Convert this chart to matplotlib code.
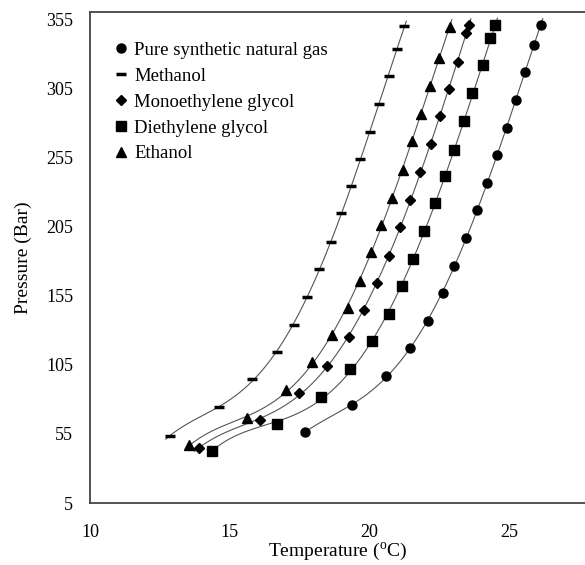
import numpy as np
import matplotlib
matplotlib.use('Agg')
import matplotlib.pyplot as plt

plt.rcParams['font.family'] = ['Liberation Serif', 'DejaVu Serif']
plt.rcParams['mathtext.fontset'] = 'custom'
plt.rcParams['mathtext.rm'] = 'Liberation Serif'

# Hydrate equilibrium data
pure_T = [17.70, 19.36, 20.60, 21.44, 22.08, 22.62, 23.01, 23.45, 23.85, 24.19, 24.55, 24.90, 25.24, 25.56, 25.86, 26.11]
pure_P = [56.5, 76, 97, 117, 137, 157, 177, 197, 217, 237, 257, 277, 297, 317, 337, 351]

meoh_T = [12.86, 14.62, 15.81, 16.67, 17.31, 17.76, 18.19, 18.61, 18.98, 19.35, 19.67, 20.00, 20.33, 20.68, 20.99, 21.23]
meoh_P = [53.8, 74.8, 94.6, 114.2, 134, 154.5, 174.3, 194.1, 214.9, 234.8, 254.4, 273.8, 294.3, 314.1, 333.8, 350.9]

meg_T = [13.89, 16.07, 17.48, 18.48, 19.25, 19.80, 20.27, 20.69, 21.08, 21.44, 21.81, 22.18, 22.50, 22.83, 23.15, 23.45, 23.54]
meg_P = [45, 65, 85, 104.5, 125, 144.6, 164.7, 184.2, 204.7, 224.6, 244.5, 265, 285, 304.6, 324.3, 345.4, 351]

deg_T = [14.35, 16.70, 18.25, 19.31, 20.08, 20.69, 21.17, 21.56, 21.94, 22.32, 22.69, 23.02, 23.39, 23.67, 24.07, 24.32, 24.49]
deg_P = [42.7, 62.5, 82, 102, 122, 142, 162, 182, 202, 222, 242, 261, 282, 302, 322, 342, 351]

etoh_T = [13.55, 15.62, 17.00, 17.95, 18.66, 19.24, 19.64, 20.04, 20.40, 20.80, 21.18, 21.51, 21.85, 22.15, 22.48, 22.86]
etoh_P = [46.7, 66.8, 86.7, 107, 127, 146.5, 166, 186.6, 206.4, 226.2, 246.3, 267.6, 286.7, 307.3, 327.6, 349.7]

labels = ['Pure synthetic natural gas', 'Methanol', 'Monoethylene glycol', 'Diethylene glycol', 'Ethanol']

fig = plt.figure(figsize=(5.85, 5.65), dpi=100)
ax = fig.add_axes([90 / 585, 62 / 565, 495 / 585, 491 / 565])

series = [
    (pure_T, pure_P, dict(marker='o', markersize=6.5)),
    (meoh_T, meoh_P, dict(marker='_', markersize=7, markeredgewidth=2.5)),
    (meg_T, meg_P, dict(marker='D', markersize=5)),
    (deg_T, deg_P, dict(marker='s', markersize=7)),
    (etoh_T, etoh_P, dict(marker='^', markersize=7)),
]

for (T, P, style), lab in zip(series, labels):
    T = np.array(T)
    P = np.array(P)
    # polynomial trendline through each set of points
    coef = np.polyfit(T, P, 4)
    tt = np.linspace(T.min() - 0.15, T.max() + 0.08, 200)
    ax.plot(tt, np.polyval(coef, tt), color='#555555', lw=0.8, zorder=1)
    ax.plot(T, P, linestyle='none', color='black', label=lab, zorder=2, **style)

ax.set_xlim(10, 27.7)
ax.set_ylim(5, 360.7)
ax.set_xticks([10, 15, 20, 25])
ax.set_yticks(np.arange(5, 356, 50))
ax.tick_params(length=0, labelsize=13)
ax.tick_params(axis='x', pad=15)
ax.tick_params(axis='y', pad=12)

for side in ['left', 'bottom', 'top']:
    ax.spines[side].set_color('#444444')
    ax.spines[side].set_linewidth(1.3)
ax.spines['right'].set_visible(False)

ax.set_xlabel('Temperature ($^{\\mathrm{o}}$C)', fontsize=14, labelpad=0)
ax.set_ylabel('Pressure (Bar)', fontsize=14, labelpad=10)

ax.legend(loc='upper left', bbox_to_anchor=(0.036, 0.955), frameon=False, fontsize=13.5,
          handlelength=0.6, handletextpad=0.4, labelspacing=0.47, borderaxespad=0)

fig.savefig('out.png', dpi=100)
